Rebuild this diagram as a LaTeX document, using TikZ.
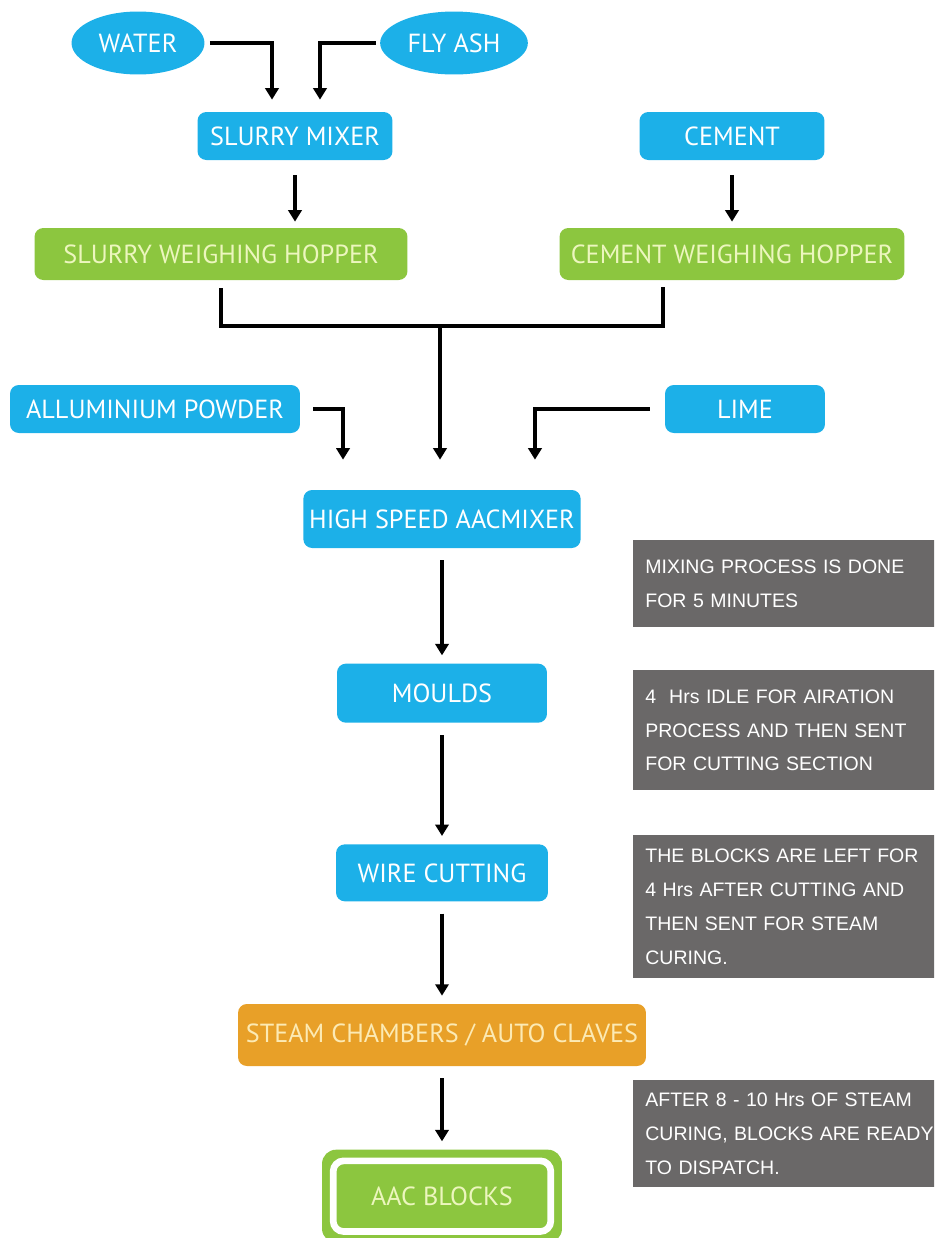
\documentclass[tikz,border=0pt]{standalone}
\usepackage{fontspec}
\setmainfont{PT Sans}
\newfontfamily\notefont{Liberation Sans}
\usepackage{tikz}
\usetikzlibrary{
  shapes.geometric,
  arrows.meta,
  positioning,
  calc
}
\definecolor{aacblue}{RGB}{28,176,232}
\definecolor{aacgreen}{RGB}{140,198,63}
\definecolor{aacorange}{RGB}{232,160,40}
\definecolor{aacgray}{RGB}{106,104,104}
\definecolor{palegreen}{RGB}{236,246,190}
\definecolor{paleorange}{RGB}{252,234,180}
\tikzset{
  bluebox/.style={
    rectangle, fill=aacblue, text=white,
    rounded corners=5pt, minimum height=0.96cm,
    text centered, font=\fontsize{14.9}{16}\selectfont
  },
  blueball/.style={
    ellipse, fill=aacblue, text=white,
    minimum width=2.66cm, minimum height=1.26cm,
    text centered, font=\fontsize{14.9}{16}\selectfont
  },
  greenbox/.style={
    rectangle, fill=aacgreen, text=palegreen,
    rounded corners=5pt, minimum height=1.04cm,
    text centered, font=\fontsize{14.9}{16}\selectfont
  },
  orangebox/.style={
    rectangle, fill=aacorange, text=paleorange,
    rounded corners=5pt, minimum height=1.24cm,
    text centered, font=\fontsize{14.9}{16}\selectfont
  },
  notebox/.style={
    rectangle, fill=aacgray, text=white, anchor=north west,
    minimum width=6.2cm, text width=5.95cm, align=left,
    inner xsep=0.24cm,
    font=\notefont\fontsize{11.1}{19.3}\selectfont
  },
  arrow/.style={-{Triangle[length=6.5pt,width=7.5pt]}, line width=2.2pt, black},
  line/.style={draw, line width=2.2pt, black},
}
\begin{document}
\begin{tikzpicture}[x=0.02cm, y=-0.02cm]

		\useasboundingbox (0,0) rectangle (934,1238);
		\clip (0,0) rectangle (934,1238);

		%% Raw materials
		\node[blueball] (water)  at (138,43)  {WATER};
		\node[blueball] (flyash) at (454,43)  {FLY ASH};
		\node[bluebox, minimum width=3.9cm] (slurrymix) at (295,136) {SLURRY MIXER};
		\node[bluebox, minimum width=3.7cm] (cement)    at (732,136) {CEMENT};

		%% Weighing hoppers
		\node[greenbox, minimum width=7.46cm] (slurryhop) at (221,254) {SLURRY WEIGHING HOPPER};
		\node[greenbox, minimum width=6.9cm]  (cementhop) at (732,254) {CEMENT WEIGHING HOPPER};

		%% Additives
		\node[bluebox, minimum width=5.8cm] (alu)  at (155,409) {ALLUMINIUM POWDER};
		\node[bluebox, minimum width=3.2cm] (lime) at (745,409) {LIME};

		%% Main line
		\node[bluebox, minimum width=5.5cm, minimum height=1.16cm]
		(aacmix)  at (442,519)              {HIGH SPEED AACMIXER};
		\node[bluebox, minimum width=4.2cm, minimum height=1.18cm, below=2.3cm of aacmix]
		(moulds)  {MOULDS};
		\node[bluebox, minimum width=4.24cm, minimum height=1.14cm, below=2.42cm of moulds]
		(wire)    {WIRE CUTTING};
		\node[orangebox, minimum width=8.16cm, below=2.04cm of wire]
		(steam)   {STEAM CHAMBERS / AUTO CLAVES};
		\node[greenbox, minimum width=4.8cm, minimum height=1.86cm,
			rounded corners=8pt, below=1.66cm of steam]
		(aac)     {AAC BLOCKS};
		\draw[white, line width=3.8pt, rounded corners=6pt]
		([shift={(0.23cm,-0.23cm)}]aac.north west) rectangle
		([shift={(-0.23cm,0.23cm)}]aac.south east);

		%% Notes
		\node[notebox, minimum height=1.74cm] (note1) at (633,540)
		{MIXING PROCESS IS DONE\\FOR 5 MINUTES};
		\node[notebox, minimum height=2.4cm]  (note2) at (633,670)
		{4\ \ Hrs IDLE FOR AIRATION\\PROCESS AND THEN SENT\\FOR CUTTING SECTION};
		\node[notebox, minimum height=2.86cm] (note3) at (633,835)
		{THE BLOCKS ARE LEFT FOR\\4 Hrs AFTER CUTTING AND\\THEN SENT FOR STEAM\\CURING.};
		\node[notebox, minimum height=2.14cm] (note4) at (633,1080)
		{AFTER 8 - 10 Hrs OF STEAM\\CURING, BLOCKS ARE READY\\TO DISPATCH.};

		%% Arrows into the slurry mixer
		\draw[arrow, shorten <=0.1cm, shorten >=0.24cm]
		(water.east) -| ([xshift=-0.46cm]slurrymix.north);
		\draw[arrow, shorten <=0.08cm, shorten >=0.24cm]
		(flyash.west) -| ([xshift=0.5cm]slurrymix.north);

		%% Arrows into the hoppers
		\draw[arrow, shorten <=0.3cm, shorten >=0.12cm]
		(slurrymix.south) -- (slurrymix.south |- slurryhop.north);
		\draw[arrow, shorten <=0.3cm, shorten >=0.12cm]
		(cement.south) -- (cement.south |- cementhop.north);

		%% Hoppers join
		\coordinate (merge) at (440,326);
		\draw[line, line join=miter]
		([yshift=-0.16cm]slurryhop.south) |- (merge)
		-| ([xshift=-1.38cm,yshift=-0.14cm]cementhop.south);
		\draw[arrow, shorten >=0.6cm] (merge) -- (merge |- aacmix.north);

		%% Additives into the mixer
		\draw[arrow, shorten <=0.26cm, shorten >=0.6cm]
		(alu.east) -| ([xshift=-1.98cm]aacmix.north);
		\draw[arrow, shorten <=0.3cm, shorten >=0.6cm]
		(lime.west) -| ([xshift=1.86cm]aacmix.north);

		%% Main flow
		\foreach \from/\to in {aacmix/moulds, moulds/wire, wire/steam, steam/aac}
		\draw[arrow, shorten <=0.24cm, shorten >=0.16cm] (\from) -- (\to);

	\end{tikzpicture}
\end{document}
